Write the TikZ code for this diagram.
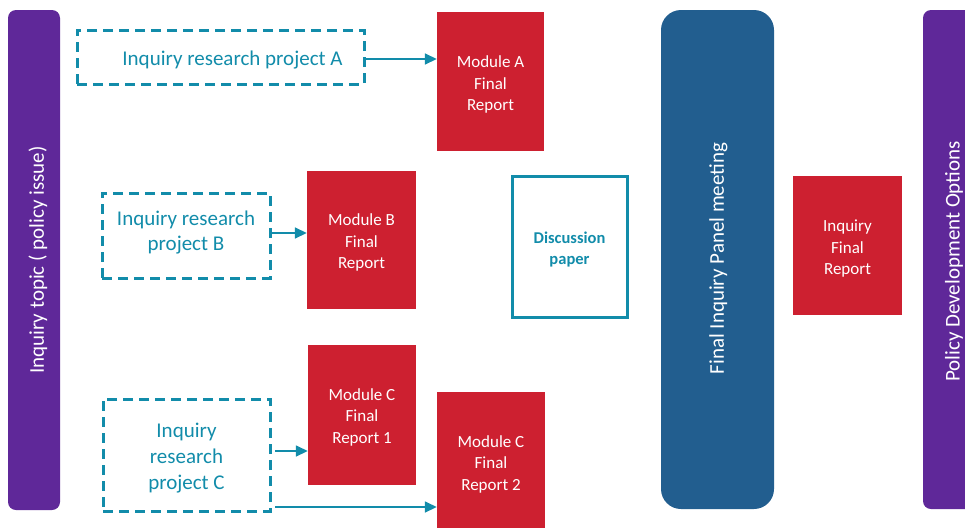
\documentclass[tikz,border=0pt]{standalone}
\usepackage{fontspec}
\setmainfont{Carlito}
\usetikzlibrary{arrows.meta}
\definecolor{cpurple}{RGB}{95,40,153}
\definecolor{cblue}{RGB}{34,94,143}
\definecolor{cred}{RGB}{205,32,48}
\definecolor{cteal}{RGB}{18,140,170}
\tikzset{
  bar/.style={fill=cpurple, rounded corners=8pt, inner sep=0pt},
  barlab/.style={text=white, font=\fontsize{21}{25}\selectfont, inner sep=0pt},
  dbox/.style={draw=cteal, line width=3pt, dash pattern=on 10pt off 6pt, inner sep=0pt},
  dlab/.style={text=cteal, align=center, font=\fontsize{21}{25.5}\selectfont, inner sep=0pt},
  rbox/.style={fill=cred, inner sep=0pt},
  rlab/.style={text=white, align=center, font=\fontsize{17}{21.5}\selectfont, inner sep=0pt},
  arr/.style={draw=cteal, line width=1.6pt, -{Triangle[length=12pt,width=11pt]}},
}
\begin{document}
\begin{tikzpicture}[x=1pt,y=-1pt]
\useasboundingbox (0,0) rectangle (965,528);
\clip (0,0) rectangle (965,528);
% side bars
\node[bar, minimum width=52pt, minimum height=500pt,
  label={[barlab, xshift=4pt, rotate=90]center:{Inquiry topic ( policy issue)}}] (topic) at (34,260) {};
\node[bar, minimum width=52pt, minimum height=499pt,
  label={[barlab, xshift=5pt, yshift=-2pt, rotate=90]center:{Policy Development Options}}] (policy) at (949,259.5) {};
\node[bar, fill=cblue, rounded corners=20pt, minimum width=113pt, minimum height=499pt,
  label={[barlab, xshift=1pt, yshift=1pt, rotate=90]center:{Final Inquiry Panel meeting}}] (panel) at (717.5,259.5) {};
% research projects
\node[dbox, minimum width=287pt, minimum height=54pt,
  label={[dlab, xshift=12pt, yshift=-3pt]center:{Inquiry research project A}}] (boxA) at (220.5,57) {};
\node[dbox, minimum width=168pt, minimum height=85pt,
  label={[dlab, font=\fontsize{21}{25}\selectfont, yshift=3pt]center:{Inquiry research\\project B}}] (boxB) at (186,235.5) {};
\node[dbox, minimum width=167pt, minimum height=112pt,
  label={[dlab, font=\fontsize{21}{26}\selectfont, yshift=-3pt]center:{Inquiry\\research\\project C}}] (boxC) at (186.5,455) {};
% reports
\node[rbox, minimum width=107pt, minimum height=139pt,
  label={[rlab, yshift=-3pt]center:{Module A\\Final\\Report}}] (modA) at (490.5,81.5) {};
\node[rbox, minimum width=109pt, minimum height=138pt,
  label={[rlab, yshift=-2.5pt]center:{Module B\\Final\\Report}}] (modB) at (361.5,240) {};
\node[rbox, minimum width=108pt, minimum height=140pt,
  label={[rlab, yshift=-2pt]center:{Module C\\Final\\Report 1}}] (modC1) at (362,415) {};
\node[rbox, minimum width=108pt, minimum height=136pt,
  label={[rlab, yshift=-4pt]center:{Module C\\Final\\Report 2}}] (modC2) at (491,460) {};
\node[rbox, minimum width=109pt, minimum height=139pt,
  label={[rlab, yshift=-3.5pt]center:{Inquiry\\Final\\Report}}] (ifr) at (847.5,245.5) {};
\node[draw=cteal, line width=3pt, minimum width=115pt, minimum height=141pt, inner sep=0pt,
  label={[rlab, text=cteal, font=\fontsize{16.5}{21.5}\selectfont\bfseries, yshift=-3pt]center:{Discussion\\paper}}] (disc) at (569.5,246.5) {};
% arrows
\coordinate (as) at (364,59);
\draw[arr] (as) -- (as -| modA.west);
\coordinate (bs) at (270,233);
\draw[arr] (bs) -- (bs -| modB.west);
\coordinate (c1) at (275,451);
\coordinate (c2) at (275,507);
\draw[arr] (c1) -- (c1 -| modC1.west);
\draw[arr] (c2) -- (c2 -| modC2.west);
\end{tikzpicture}
\end{document}
